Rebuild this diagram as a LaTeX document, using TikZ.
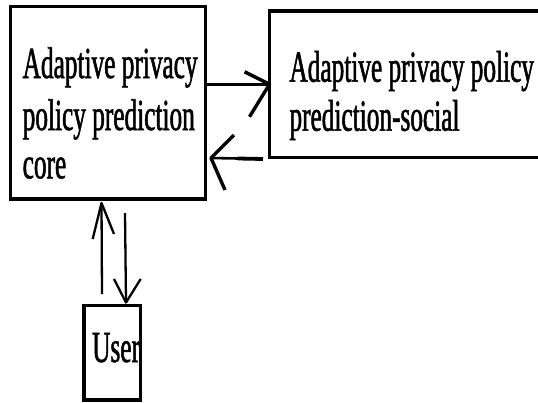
\documentclass[tikz,border=0pt]{standalone}
\usepackage{fontspec}
% narrow, slightly heavy Times-like face used for every label
\newfontfamily\boxfont[FakeStretch=0.571,FakeBold=1.2]{Liberation Serif}
\begin{document}
\begin{tikzpicture}[x=1pt,y=-1pt,
  box/.style={draw=black, line width=3.2pt, inner sep=0pt, outer sep=0pt},
  txt/.style={font=\boxfont\fontsize{44.3}{50}\selectfont, inner sep=0pt, anchor=base west, text=black},
  shaft/.style={line width=3.5pt},
  thinshaft/.style={line width=2.3pt},
  barb/.style={line width=3.4pt, line join=round},
  thinbarb/.style={line width=2.3pt, line join=round}]
\useasboundingbox (0,0) rectangle (538,402);
\fill[white] (0,0) rectangle (538,402);
\clip (0,0) rectangle (538,402);

% boxes
\node[box, minimum width=195pt, minimum height=192.5pt] (core) at (108,102.75) {};
\node[box, minimum width=278.5pt, minimum height=146.5pt] (social) at (408.75,84.25) {};
\node[box, minimum width=56.5pt, minimum height=94.5pt] (user) at (112.25,352.75) {};

% labels
\node[txt] (coreA) at (22.5,78) {Adaptive privacy};
\node[txt] (coreB) at (22.5,130) {policy prediction};
\node[txt] (coreC) at (22.5,178.3) {core};
\node[txt] (socA) at (289.3,81.7) {Adaptive privacy policy};
\node[txt] (socB) at (289.3,130.7) {prediction-social};
\node[txt] (userT) at (92,362) {User};

% core -> social
\draw[shaft] (core.east |- social.west) -- (social.west);
\draw[barb] (social.west) ++(-25,-12.5) -- (social.west) -- ++(-20,32.5);

% social -> core
\coordinate (retStart) at (263,159);
\coordinate (retMid) at (238,158.5);
\coordinate (retTip) at (211,158);
\draw[line width=3.8pt] (retStart) -- (retMid);
\draw[line width=2.6pt] (retMid) -- (retTip);
\draw[barb] (retTip) ++(23,-23) -- (retTip) -- ++(14,32);

% user -> core
\coordinate (upTail) at (102,294);
\coordinate (upTip) at (101.5,203);
\draw[thinshaft] (upTail) -- (upTip);
\draw[thinbarb] (upTip) ++(-8.8,36) -- (upTip) -- ++(12.5,31);

% core -> user
\coordinate (downTail) at (125,213);
\coordinate (downTip) at (126,302.5);
\draw[thinshaft] (downTail) -- (downTip);
\draw[thinbarb] (downTip) ++(-12,-23.5) -- (downTip) -- ++(14.7,-23.5);
\end{tikzpicture}
\end{document}
